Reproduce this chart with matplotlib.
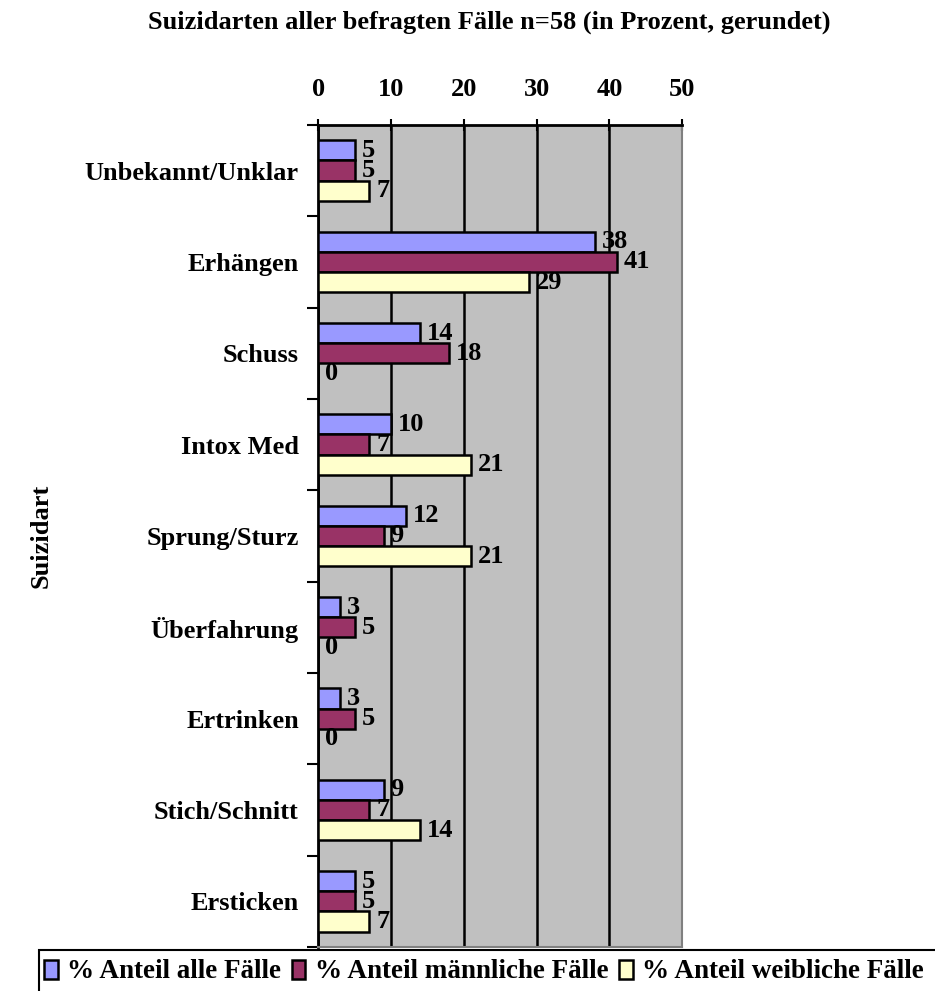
import numpy as np
import matplotlib.pyplot as plt
from matplotlib.patches import Patch, Rectangle

plt.rcParams['font.family'] = ['Liberation Serif', 'DejaVu Serif']
plt.rcParams['font.weight'] = 'bold'

kategorien = ['Unbekannt/Unklar', 'Erhängen', 'Schuss', 'Intox Med', 'Sprung/Sturz',
              'Überfahrung', 'Ertrinken', 'Stich/Schnitt', 'Ersticken']
alle = [5, 38, 14, 10, 12, 3, 3, 9, 5]
maennlich = [5, 41, 18, 7, 9, 5, 5, 7, 5]
weiblich = [7, 29, 0, 21, 21, 0, 0, 14, 7]
serien = ['% Anteil alle Fälle', '% Anteil männliche Fälle', '% Anteil weibliche Fälle']
farben = ['#9999FF', '#993366', '#FFFFCC']

fig = plt.figure(figsize=(9.35, 9.91), dpi=100)
ax = fig.add_axes([0.3404, 0.0444, 0.3893, 0.8295])
ax.set_facecolor('#C0C0C0')

y = np.arange(len(kategorien))
h = 1 / 4.5
for k, (werte, farbe) in enumerate(zip([alle, maennlich, weiblich], farben)):
    bars = ax.barh(y + (k - 1) * h, werte, height=h, color=farbe,
                   edgecolor='black', linewidth=1.8, zorder=3)
    ax.bar_label(bars, padding=5, fontsize=19, fontweight='bold', zorder=4)

ax.set_xlim(0, 50)
ax.set_ylim(len(kategorien) - 0.5, -0.5)
ax.set_xticks(range(0, 51, 10))
ax.xaxis.tick_top()
ax.tick_params(axis='x', labelsize=19, length=8, width=1.5, pad=13, direction='inout')
ax.set_yticks(y)
ax.set_yticklabels(kategorien, fontsize=19)
ax.tick_params(axis='y', which='major', length=0, pad=14)
ax.set_yticks(np.arange(len(kategorien) + 1) - 0.5, minor=True)
ax.tick_params(axis='y', which='minor', length=8, width=1.5, direction='out')
ax.grid(axis='x', color='black', linewidth=1.8, zorder=1)
ax.set_axisbelow(True)

ax.spines['top'].set_linewidth(2)
ax.spines['left'].set_linewidth(2)
ax.spines['right'].set_color('#808080')
ax.spines['bottom'].set_color('#808080')
ax.spines['right'].set_linewidth(1.5)
ax.spines['bottom'].set_linewidth(1.5)

ax.set_ylabel('Suizidart', fontsize=19, fontweight='bold')
ax.yaxis.set_label_coords(-0.73, 0.5)

fig.text(0.523, 0.978, 'Suizidarten aller befragten Fälle n=58 (in Prozent, gerundet)',
         ha='center', va='center', fontsize=19, fontweight='bold')

# Legendenrahmen läuft über den rechten Rand hinaus
fig.patches.append(Rectangle((39 / 935, -0.02), 1.0, (991 - 950) / 991 + 0.02,
                             transform=fig.transFigure, facecolor='white',
                             edgecolor='black', linewidth=1.5, zorder=0))
handles = [Patch(facecolor=c, edgecolor='black', linewidth=1.8) for c in farben]
leg = fig.legend(handles, serien, loc='center left', bbox_to_anchor=(44 / 935, 1 - 972 / 991),
                 ncol=3, fontsize=19.5, frameon=False,
                 handlelength=0.5, handleheight=0.7, handletextpad=0.35,
                 columnspacing=0.4, borderpad=0.0, borderaxespad=0)

fig.savefig('out.png', dpi=100)
